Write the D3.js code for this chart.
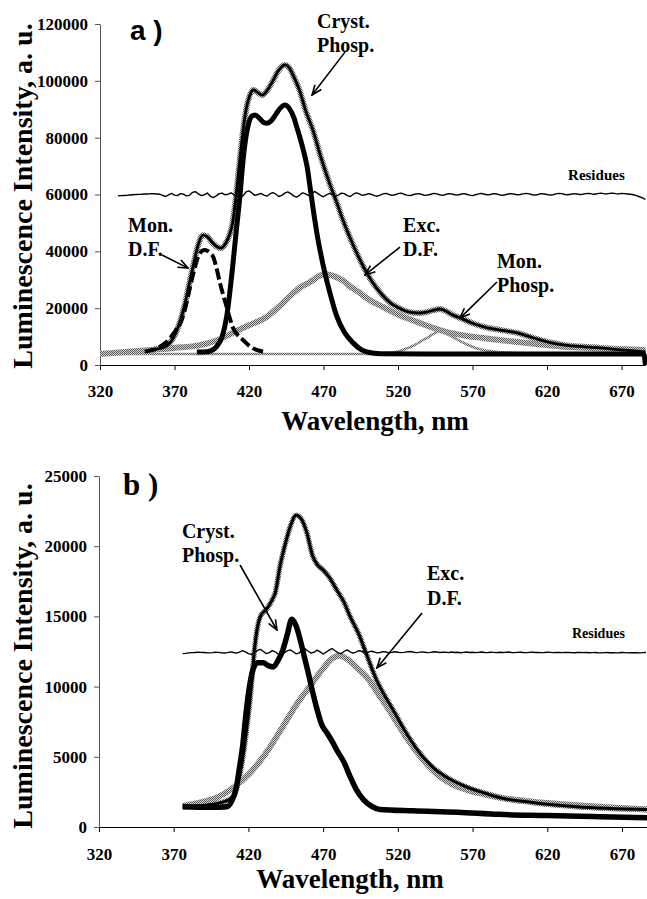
<!DOCTYPE html>
<meta charset="utf-8">
<style>
body { margin: 0; background: #fff; }
svg { display: block; }
text { font-family: "Liberation Serif", "Times New Roman", serif; font-weight: bold; fill: #000; }
.tick text { font-size: 17px; }
</style>
<body>
<script src="https://cdn.jsdelivr.net/npm/d3@7"></script>
<script>
// tick values
var xTicks = [320, 370, 420, 470, 520, 570, 620, 670];
var yTicksA = [0, 20000, 40000, 60000, 80000, 100000, 120000];
var yTicksB = [0, 5000, 10000, 15000, 20000, 25000];

// ---- panel a) : [wavelength nm, intensity] ----
var sumA = [[352,5000],[358,5600],[364,6400],[368,8500],[371,11500],[374,15800],[377,21500],[380,28800],[383,36000],[386,42500],[389,45700],[392,45200],[395,43300],[398,41800],[401,41100],[404,42500],[407,46000],[409,50000],[411,58000],[413,68000],[415,78000],[418,89700],[421,95500],[423,96800],[426,95800],[429,95000],[432,96500],[436,100000],[440,103800],[444,105600],[447,104600],[450,101500],[454,96500],[458,89500],[463,82500],[468,73500],[474,64000],[479,57000],[483,51000],[488,44500],[494,37500],[499,32400],[505,27500],[510,24300],[515,21800],[520,20200],[525,19000],[530,18400],[535,18300],[540,18700],[544,19300],[548,19700],[552,19000],[556,17800],[562,16500],[570,14700],[580,13100],[590,12200],[600,11300],[611,9500],[622,7900],[632,7000],[645,6400],[656,6000],[670,5300],[686,4600]];
var crystA = [[385,4600],[392,4700],[396,5400],[399,7000],[402,10000],[405,17000],[407,25000],[409,34500],[411,45000],[414,60000],[416,72000],[418,80500],[420,85500],[422,87600],[424,88000],[427,86800],[430,85300],[432,85100],[435,86000],[438,88200],[441,90400],[444,91500],[447,90300],[450,87200],[452,83800],[455,78500],[457,74500],[459,69700],[461,62500],[463,55000],[466,45000],[470,34500],[475,24000],[479,17000],[484,11500],[490,7700],[495,5500],[500,4500],[508,4000],[540,3900],[620,3900],[685,3900],[686,0]];
var monDFA = [[350,4700],[356,5400],[360,6300],[364,7800],[367,9500],[371,12300],[374,14800],[377,19500],[380,26400],[383,33000],[386,38200],[388,40000],[390,40500],[392,40200],[394,39300],[396,38000],[398,34500],[400.5,28900],[403,24000],[405,20400],[407,16700],[409,13400],[412,10800],[416,8800],[420,6800],[425,5300],[432,4600]];
var excDFA = [[320,3900],[335,4500],[354,5300],[370,6000],[387,7000],[400,9000],[409,11300],[420,14000],[432,17000],[440,20500],[447,24000],[455,27500],[461,29200],[466,31000],[471,31900],[477,31300],[483,29700],[488,27600],[494,25500],[499,23500],[510,20400],[521,17500],[533,15100],[544,13000],[555,11300],[566,10200],[577,9500],[588,8800],[600,8100],[616,7200],[633,6300],[660,5800],[686,5300]];
var monPhospA = [[500,3900],[512,4100],[520,4800],[526,5800],[531,7000],[536,8500],[541,10000],[545,11300],[548,11800],[551,11400],[555,10300],[560,8900],[566,7300],[572,6000],[580,5000],[590,4500],[605,4100],[625,3950]];
var baseA = [[320,3900],[686,3900]];
// residues a): every 2 nm from 332 nm
var resStartA = 332;
var residuesA = [59500,59600,59650,59700,59800,59900,60000,60050,60100,
  60200,60150,60300,60250,60200,60100,59700,59300,
  59900,60400,59800,59600,60300,60100,59500,59700,
  60700,61000,60200,59600,59900,60500,59400,58900,
  59500,60300,60500,59900,60100,60600,59900,59200,
  58700,59600,60900,61300,60500,59700,60000,60400,
  59800,59400,60200,60700,60100,59300,59700,60500,
  60900,60300,59500,59100,59800,60600,60200,59600,
  60300,61100,60400,59700,59200,59900,60400,60000,
  59400,59800,60500,60300,59600,59300,60100,60600,
  60200,59700,59900,60300,60100,59600,59400,59800,
  60200,60400,60000,59700,59900,60300,60500,60100,
  59800,59600,59900,60200,60300,60000,59700,59800,
  60100,60400,60200,59900,59700,60000,60300,60200,
  59900,59800,60100,60300,60100,59800,59600,59900,
  60200,60400,60100,59900,60000,60300,60200,59900,
  59700,59900,60200,60300,60100,59900,60000,60200,
  60400,60200,59900,59800,60000,60300,60200,60000,
  59800,59900,60200,60400,60300,60000,59900,60100,
  60300,60200,60000,60100,60300,60400,60200,60100,
  60300,60500,60300,60200,60400,60500,60300,60200,
  60400,60300,60200,60100,59900,59600,59200,58800,
  58300];

// ---- panel b) ----
var sumB = [[376,1450],[385,1500],[395,1600],[402,1750],[406,1900],[410,2200],[414,3600],[417,5500],[419,7150],[421,9000],[422.5,10700],[424,12600],[426,14200],[428,15000],[432,15500],[436,16200],[438,16700],[441,18500],[445,20300],[448,21400],[452,22200],[455,22000],[459,21000],[463,19300],[466,18700],[470,18300],[474,17800],[479,16900],[484,16000],[488,15000],[494,13700],[499,12300],[506,10400],[512,9200],[517,8300],[525,6800],[533,5500],[544,4200],[555,3400],[566,2850],[577,2450],[590,2050],[610,1750],[640,1450],[687,1250]];
var excDFB = [[376,1500],[390,1800],[399,2100],[410,2800],[421,3850],[432,5300],[443,7150],[452,8700],[461,10000],[470,11300],[476,12000],[481,12200],[487,11900],[493,11300],[499,10700],[508,9300],[517,7850],[525,6500],[533,5300],[540,4400],[548,3600],[557,3000],[566,2650],[577,2350],[588,2100],[610,1800],[633,1600],[660,1400],[687,1250]];
var crystB = [[376,1450],[395,1400],[405.7,1450],[409,1900],[412,2850],[414,4200],[416.4,6000],[418,7700],[420,9500],[423,11200],[426,11700],[430,11700],[433,11500],[436.5,11400],[440,11900],[443,12600],[446,13700],[449,14800],[452,14300],[454.5,13400],[457,12300],[460,11000],[463,9600],[466,8350],[469,7300],[472.6,6700],[476,6100],[479,5500],[484,4600],[488,3600],[492,2700],[497,1950],[502,1500],[508,1250],[530,1150],[560,1050],[588,900],[620,820],[650,740],[687,650]];
var resStartB = 376;
var residuesB = [12350,12370,12400,12420,12430,12450,12440,12430,
  12410,12400,12420,12450,12440,12410,12390,12420,
  12470,12430,12380,12450,12560,12480,12350,12300,
  12420,12580,12650,12500,12350,12420,12560,12480,
  12300,12250,12400,12550,12620,12480,12330,12400,
  12580,12690,12520,12380,12450,12600,12470,12320,
  12450,12600,12710,12550,12400,12350,12500,12620,
  12480,12380,12450,12560,12500,12400,12440,12520,
  12480,12400,12430,12490,12460,12410,12440,12480,
  12450,12420,12440,12470,12500,12460,12420,12440,
  12470,12450,12420,12440,12480,12460,12430,12450,
  12450,12420,12460,12430,12450,12410,12440,12460,
  12430,12450,12420,12440,12460,12430,12420,12450,
  12440,12420,12450,12430,12440,12460,12430,12420,
  12440,12450,12430,12420,12440,12450,12430,12440,
  12420,12430,12450,12440,12420,12430,12440,12420,
  12430,12440,12420,12410,12430,12440,12420,12430,
  12410,12420,12430,12410,12400,12420,12430,12410,
  12420,12400,12410,12430,12420,12400,12410,12420,
  12410,12400,12420,12430];

// annotations, placed in data units
var labelsA = [
  {lines: ["Cryst.", "Phosp."], wl: 465.6, v: 118600, size: 20},
  {lines: ["Residues"], wl: 634.1, v: 65100, size: 15},
  {lines: ["Mon.", "D.F."], wl: 338.8, v: 46800, size: 20},
  {lines: ["Exc.", "D.F."], wl: 523.4, v: 46800, size: 20},
  {lines: ["Mon.", "Phosp."], wl: 586.4, v: 34100, size: 20}
];
var arrowsA = [[484.4,110100,462.3,95000],[361.6,38700,379.1,34100],[521.3,41500,497.9,31700],[586.4,29200,561.6,16500]];
var labelsB = [
  {lines: ["Cryst.", "Phosp."], wl: 375.5, v: 20600, size: 20},
  {lines: ["Exc.", "D.F."], wl: 539.5, v: 17590, size: 20},
  {lines: ["Residues"], wl: 636.5, v: 13460, size: 14}
];
var arrowsB = [[414.4,18660,439.1,14030],[536.2,15240,506,11330]];

var svg = d3.select("body").append("svg")
    .attr("width", 647)
    .attr("height", 899);

var defs = svg.append("defs");
// stippled grey, like the printed dotted lines
var pat = defs.append("pattern")
    .attr("id", "stip")
    .attr("width", 2).attr("height", 2)
    .attr("patternUnits", "userSpaceOnUse");
pat.append("rect").attr("width", 2).attr("height", 2).attr("fill", "#d2d2d2");
pat.append("rect").attr("width", 1).attr("height", 1).attr("fill", "#5a5a5a");
pat.append("rect").attr("x", 1).attr("y", 1).attr("width", 1).attr("height", 1).attr("fill", "#5a5a5a");

defs.append("marker")
    .attr("id", "head")
    .attr("viewBox", "0 0 12 10")
    .attr("markerUnits", "userSpaceOnUse")
    .attr("markerWidth", 12).attr("markerHeight", 10)
    .attr("refX", 11).attr("refY", 5)
    .attr("orient", "auto")
  .append("path")
    .attr("d", "M1,1L11,5L1,9")
    .attr("fill", "none")
    .attr("stroke", "#000")
    .attr("stroke-width", 1.6);

function drawPanel(p) {
  var x = d3.scaleLinear().domain(p.xDomain).range(p.xRange);
  var y = d3.scaleLinear().domain(p.yDomain).range(p.yRange);
  var g = svg.append("g");

  var line = d3.line()
      .x(function(d) { return x(d[0]); })
      .y(function(d) { return y(d[1]); })
      .curve(d3.curveMonotoneX);

  // axes
  var yAxis = g.append("g")
      .attr("transform", "translate(" + p.xRange[0] + ",0)")
      .call(d3.axisLeft(y).tickValues(p.yTicks).tickSize(5).tickSizeOuter(0).tickPadding(7).tickFormat(d3.format("d")));
  yAxis.selectAll("path, line").attr("stroke", "#555");

  g.append("g")
      .attr("transform", "translate(0," + p.yRange[0] + ")")
      .call(d3.axisBottom(x).tickValues(xTicks).tickSize(5).tickSizeOuter(0).tickPadding(p.xPad));

  // curves
  p.series.forEach(function(s) {
    g.append("path")
        .datum(s.data)
        .attr("fill", "none")
        .attr("stroke", s.stroke)
        .attr("stroke-width", s.width)
        .attr("stroke-dasharray", s.dash || null)
        .attr("stroke-linejoin", "round")
        .attr("d", line);
  });

  // residues (jagged, straight segments)
  g.append("path")
      .datum(p.residues)
      .attr("fill", "none")
      .attr("stroke", "#000")
      .attr("stroke-width", 1.4)
      .attr("stroke-linejoin", "round")
      .attr("d", d3.line()
        .x(function(d, i) { return x(p.resStart + i * 2); })
        .y(function(d) { return y(d); }));

  // labels + arrows
  p.labels.forEach(function(l) {
    var t = g.append("text")
        .attr("x", x(l.wl))
        .attr("y", y(l.v))
        .style("font-size", l.size + "px");
    l.lines.forEach(function(s, i) {
      t.append("tspan").attr("x", x(l.wl)).attr("dy", i ? p.lineGap : 0).text(s);
    });
  });
  p.arrows.forEach(function(a) {
    g.append("line")
        .attr("x1", x(a[0])).attr("y1", y(a[1]))
        .attr("x2", x(a[2])).attr("y2", y(a[3]))
        .attr("stroke", "#000")
        .attr("stroke-width", 1.6)
        .attr("marker-end", "url(#head)");
  });

  g.append("text")
      .attr("x", x(p.tag.wl))
      .attr("y", y(p.tag.v))
      .style("font-family", p.tag.font)
      .style("font-size", p.tag.size + "px")
      .text(p.tag.text);

  // axis titles
  g.append("text")
      .attr("transform", "translate(32," + p.yTitleMid + ") rotate(-90)")
      .attr("text-anchor", "middle")
      .style("font-size", "28px")
      .text("Luminescence Intensity, a. u.");
  g.append("text")
      .attr("x", p.xTitle[0])
      .attr("y", p.xTitle[1])
      .attr("text-anchor", "middle")
      .style("font-size", "27px")
      .text("Wavelength, nm");
}

drawPanel({
  xDomain: [320, 686], xRange: [100, 645.4],
  yDomain: [0, 120000], yRange: [365, 24],
  yTicks: yTicksA, xPad: 15,
  series: [
    {data: baseA, stroke: "url(#stip)", width: 2.5},
    {data: excDFA, stroke: "url(#stip)", width: 6},
    {data: monPhospA, stroke: "url(#stip)", width: 2.5},
    {data: sumA, stroke: "url(#stip)", width: 6},
    {data: sumA, stroke: "#000", width: 2.8},
    {data: crystA, stroke: "#000", width: 5},
    {data: monDFA, stroke: "#000", width: 4, dash: "11,4"}
  ],
  residues: residuesA, resStart: resStartA,
  labels: labelsA, arrows: arrowsA, lineGap: 24,
  tag: {text: "a )", wl: 340.1, v: 114400, size: 28, font: "'Liberation Sans', Arial, sans-serif"},
  yTitleMid: 196, xTitle: [375, 430]
});

drawPanel({
  xDomain: [320, 687], xRange: [99, 647.4],
  yDomain: [0, 25000], yRange: [827, 476],
  yTicks: yTicksB, xPad: 16,
  series: [
    {data: excDFB, stroke: "url(#stip)", width: 6},
    {data: sumB, stroke: "url(#stip)", width: 5.5},
    {data: sumB, stroke: "#000", width: 3},
    {data: crystB, stroke: "#000", width: 5.5}
  ],
  residues: residuesB, resStart: resStartB,
  labels: labelsB, arrows: arrowsB, lineGap: 24.5,
  tag: {text: "b )", wl: 336.1, v: 23650, size: 31, font: "'Liberation Serif', 'Times New Roman', serif"},
  yTitleMid: 656, xTitle: [350, 888]
});
</script>
</body>
